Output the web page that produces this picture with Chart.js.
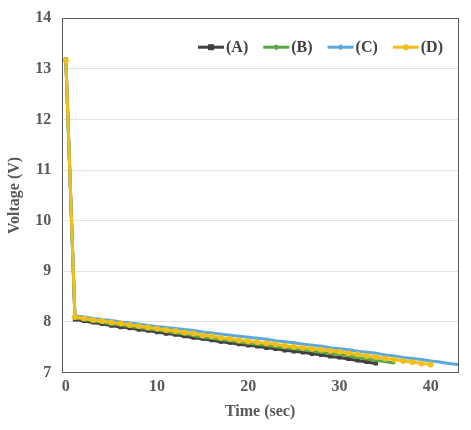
<!DOCTYPE html>
<html>
<head>
<meta charset="utf-8">
<script src="https://cdn.jsdelivr.net/npm/chart.js@4/dist/chart.umd.min.js"></script>
<style>
    html, body { margin: 0; padding: 0; background: #fff; }
    #wrap { width: 471px; height: 430px; }
</style>
</head>
<body>
<div id="wrap"><canvas id="voltChart" width="471" height="430"></canvas></div>
<script>
// Time axis (sec), one reading per second
const timeSec = [0, 1, 2, 3, 4, 5, 6, 7, 8, 9, 10, 11, 12, 13, 14, 15, 16, 17, 18, 19, 20, 21,
    22, 23, 24, 25, 26, 27, 28, 29, 30, 31, 32, 33, 34, 35, 36, 37, 38, 39, 40, 41, 42, 43];

// Voltage readings (V)
const voltA = [13.18, 8.05, 8.02, 7.99, 7.96, 7.93, 7.90, 7.88, 7.85, 7.83, 7.80, 7.77, 7.75, 7.72,
    7.69, 7.67, 7.64, 7.61, 7.59, 7.56, 7.54, 7.52, 7.49, 7.47, 7.44, 7.42, 7.40, 7.37, 7.35, 7.32,
    7.30, 7.27, 7.24, 7.21, 7.18];
const voltB = [13.16, 8.08, 8.05, 8.02, 7.99, 7.96, 7.94, 7.91, 7.89, 7.86, 7.84, 7.81, 7.78, 7.76,
    7.73, 7.70, 7.68, 7.65, 7.63, 7.60, 7.58, 7.56, 7.54, 7.51, 7.49, 7.47, 7.45, 7.43, 7.40, 7.38,
    7.36, 7.33, 7.30, 7.27, 7.24, 7.22, 7.19];
const voltC = [13.18, 8.12, 8.10, 8.07, 8.05, 8.03, 8.00, 7.98, 7.96, 7.93, 7.91, 7.89, 7.87, 7.85,
    7.83, 7.80, 7.78, 7.76, 7.74, 7.72, 7.70, 7.68, 7.66, 7.63, 7.61, 7.59, 7.56, 7.54, 7.52, 7.49,
    7.47, 7.45, 7.42, 7.40, 7.38, 7.35, 7.33, 7.30, 7.28, 7.26, 7.23, 7.21, 7.18, 7.16];
const voltD = [13.17, 8.10, 8.07, 8.04, 8.02, 7.99, 7.97, 7.94, 7.92, 7.89, 7.87, 7.84, 7.82, 7.79,
    7.77, 7.74, 7.72, 7.69, 7.67, 7.64, 7.62, 7.60, 7.58, 7.56, 7.53, 7.51, 7.49, 7.47, 7.45, 7.43,
    7.41, 7.38, 7.36, 7.33, 7.31, 7.28, 7.26, 7.23, 7.21, 7.18, 7.16];

const seriesNames = ['(A)', '(B)', '(C)', '(D)'];
const yTicks = [7, 8, 9, 10, 11, 12, 13, 14];

const colors = ['#404040', '#5aa547', '#5ba7e0', '#f0bf1a'];
const markers = ['rect', 'triangle', 'triangle', 'circle'];
const markerSize = [3, 2, 2, 3];
const serif = "'Liberation Serif', 'Times New Roman', serif";
const labelFont = "bold 16px " + serif;

function toPoints(values) {
    return values.map((v, i) => ({ x: timeSec[i], y: v }));
}

const allSeries = [voltA, voltB, voltC, voltD];

const datasets = allSeries.map((vals, i) => ({
    label: seriesNames[i],
    data: toPoints(vals),
    borderColor: colors[i],
    backgroundColor: colors[i],
    borderWidth: 3,
    pointStyle: markers[i],
    pointRadius: markerSize[i],
    pointBorderWidth: 0,
    tension: 0,
    order: 4 - i
}));

// frame round the plot area
const plotBox = {
    id: 'plotBox',
    afterDraw(chart) {
        const a = chart.chartArea;
        const ctx = chart.ctx;
        ctx.save();
        ctx.strokeStyle = '#595959';
        ctx.lineWidth = 1;
        ctx.strokeRect(Math.round(a.left) + 0.5, Math.round(a.top) + 0.5,
            Math.round(a.right - a.left), Math.round(a.bottom - a.top));
        ctx.restore();
    }
};

// Excel-like legend in one row, top right inside the plot
const innerLegend = {
    id: 'innerLegend',
    afterDraw(chart) {
        const a = chart.chartArea;
        const ctx = chart.ctx;
        const iconW = 28, gap = 15;
        ctx.save();
        ctx.font = labelFont;
        const widths = seriesNames.map(t => ctx.measureText(t).width);
        const total = widths.reduce((s, w) => s + iconW + w, 0) + gap * (seriesNames.length - 1);
        let x = a.right - 15 - total;
        const y = a.top + 29;
        seriesNames.forEach((name, i) => {
            ctx.strokeStyle = colors[i];
            ctx.fillStyle = colors[i];
            ctx.lineWidth = 3;
            ctx.beginPath();
            ctx.moveTo(x, y);
            ctx.lineTo(x + iconW - 2, y);
            ctx.stroke();
            const cx = x + (iconW - 2) / 2;
            if (markers[i] === 'rect') {
                ctx.fillRect(cx - 3, y - 3, 6, 6);
            } else if (markers[i] === 'circle') {
                ctx.beginPath();
                ctx.arc(cx, y, 3, 0, Math.PI * 2);
                ctx.fill();
            } else {
                ctx.fillRect(cx - 1.5, y - 2.5, 3, 5);
            }
            ctx.fillStyle = '#404040';
            ctx.textBaseline = 'middle';
            ctx.textAlign = 'left';
            ctx.fillText(name, x + iconW, y + 1);
            x += iconW + widths[i] + gap;
        });
        ctx.restore();
    }
};

new Chart(document.getElementById('voltChart'), {
    type: 'line',
    data: { datasets: datasets },
    plugins: [plotBox, innerLegend],
    options: {
        responsive: false,
        animation: false,
        layout: { padding: { left: 5, right: 13, top: 4, bottom: 9 } },
        plugins: {
            legend: { display: false },
            tooltip: { enabled: false }
        },
        scales: {
            x: {
                type: 'linear',
                min: -0.4,
                max: 43,
                grid: { display: false },
                border: { display: false },
                ticks: {
                    stepSize: 10,
                    includeBounds: false,
                    color: '#595959',
                    padding: -3,
                    maxRotation: 0,
                    font: { family: serif, size: 16, weight: 'bold' }
                },
                title: {
                    display: true,
                    text: 'Time (sec)',
                    color: '#595959',
                    padding: { top: 8, bottom: 0 },
                    font: { family: serif, size: 16, weight: 'bold' }
                }
            },
            y: {
                min: 7,
                max: 14,
                grid: { color: '#e3e3e3', drawTicks: false },
                border: { display: false },
                afterBuildTicks: (axis) => { axis.ticks = yTicks.map(v => ({ value: v })); },
                ticks: {
                    color: '#595959',
                    padding: 11,
                    font: { family: serif, size: 16, weight: 'bold', lineHeight: 0.9 }
                },
                title: {
                    display: true,
                    text: 'Voltage (V)',
                    color: '#595959',
                    padding: { top: 0, bottom: 0 },
                    font: { family: serif, size: 16, weight: 'bold' }
                }
            }
        }
    }
});
</script>
</body>
</html>
